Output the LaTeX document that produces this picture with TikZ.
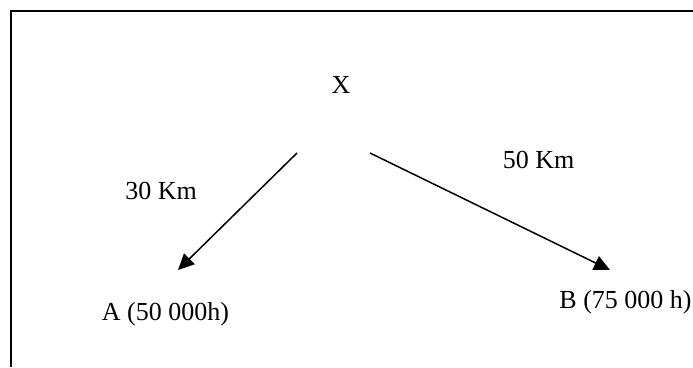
\documentclass[tikz,border=0pt]{standalone}
\usepackage{fontspec}
\setmainfont{Liberation Serif}
\usetikzlibrary{arrows.meta}

\begin{document}
\begin{tikzpicture}[x=1pt,y=1pt,
  lbl/.style={anchor=base, inner sep=0pt, font=\fontsize{26}{31}\selectfont},
  route/.style={line width=1.5pt, -{Triangle[length=16pt,width=15pt]}}]
  \useasboundingbox (0,0) rectangle (693,-367);
  \draw[line width=2pt] (11,-367) -- (11,-11) -- (693,-11);

  \node[lbl] (town) at (341,-93) {X};
  \node[lbl] (distA) at (161,-199) {30 Km};
  \node[lbl] (distB) at (538.5,-168) {50 Km};
  \node[lbl] (townA) at (165.5,-320) {A (50 000h)};
  \node[lbl] (townB) at (625.5,-308) {B (75 000 h)};

  \coordinate (startA) at (297,-153);
  \coordinate (endA) at (178,-270);
  \coordinate (startB) at (370,-153);
  \coordinate (endB) at (610,-270);
  \draw[route] (startA) -- (endA);
  \draw[route] (startB) -- (endB);
\end{tikzpicture}
\end{document}
